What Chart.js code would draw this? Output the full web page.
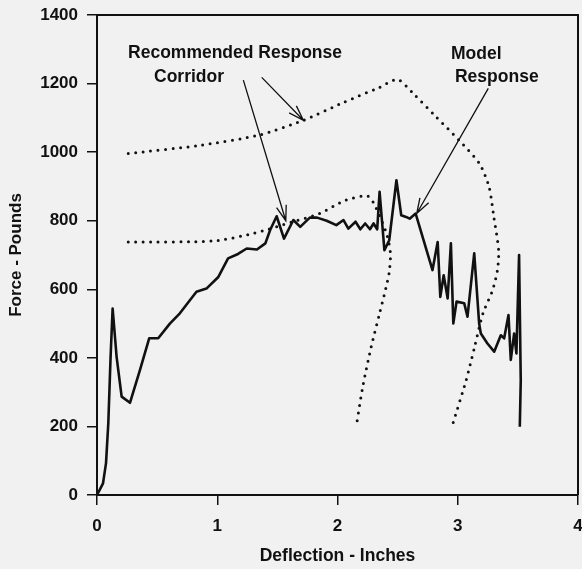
<!DOCTYPE html>
<html lang="en">
<head>
    <meta charset="utf-8" />
    <title>Force vs Deflection</title>
    <script src="https://cdn.jsdelivr.net/npm/chart.js"></script>
    <style>
        html, body { margin: 0; padding: 0; background: #f1f1f1; }
        #wrap { width: 582px; height: 569px; }
    </style>
</head>
<body>
<div id="wrap"><canvas id="forceChart" width="582" height="569"></canvas></div>

<script>
    // Model response - deflection (inches) and force (pounds)
    var modelX = [0, 0.05, 0.075, 0.094, 0.113, 0.13, 0.163, 0.205, 0.274, 0.357, 0.434, 0.509, 0.606, 0.689, 0.827, 0.91,
        1.007, 1.09, 1.173, 1.245, 1.33, 1.40, 1.44, 1.494, 1.555, 1.633, 1.69, 1.77, 1.83, 1.91, 1.99, 2.05, 2.09, 2.15,
        2.19, 2.23, 2.27, 2.30, 2.33, 2.35, 2.39, 2.43, 2.49, 2.53, 2.57, 2.60, 2.65, 2.79, 2.833, 2.855, 2.883, 2.916,
        2.943, 2.963, 2.99, 3.054, 3.081, 3.137, 3.178, 3.192, 3.247, 3.303, 3.358, 3.386, 3.422, 3.441, 3.469, 3.488,
        3.51, 3.524, 3.516];
    var modelY = [0, 34, 93, 209, 403, 544, 403, 287, 269, 364, 457, 457, 500, 530, 593, 602,
        635, 690, 703, 719, 716, 734, 773, 813, 748, 802, 782, 809, 809, 800, 787, 802, 777, 797,
        775, 792, 775, 792, 775, 884, 714, 743, 918, 816, 811, 806, 821, 656, 738, 578, 641, 573,
        734, 500, 564, 559, 520, 705, 500, 471, 442, 418, 466, 457, 525, 394, 471, 413,
        700, 335, 199];

    // Recommended response corridor - upper bound
    var upperX = [0.26, 0.86, 1.35, 1.71, 2.05, 2.35, 2.50, 2.63, 2.82, 3.01, 3.18, 3.26, 3.30, 3.34, 3.33, 3.29,
        3.21, 3.14, 3.07, 2.96];
    var upperY = [996, 1020, 1050, 1092, 1145, 1189, 1212, 1171, 1103, 1035, 967, 899, 811, 714, 656, 598,
        530, 432, 335, 209];

    // Recommended response corridor - lower bound
    var lowerX = [0.26, 0.97, 1.30, 1.63, 1.85, 2.07, 2.25, 2.31, 2.41, 2.44, 2.43, 2.40, 2.35, 2.28, 2.21, 2.16];
    var lowerY = [738, 741, 763, 797, 821, 860, 872, 845, 760, 705, 650, 600, 530, 432, 316, 209];

    var xTicks = [0, 1, 2, 3, 4];
    var yTicks = [0, 200, 400, 600, 800, 1000, 1200, 1400];

    // Callout text and arrows, in data units
    var callouts = [
        { text: 'Recommended Response', x: 0.258, y: 1289 },
        { text: 'Corridor', x: 0.474, y: 1219 },
        { text: 'Model', x: 2.944, y: 1286 },
        { text: 'Response', x: 2.977, y: 1219 }
    ];
    var arrows = [
        { from: [1.217, 1210], to: [1.57, 800] },
        { from: [1.37, 1218], to: [1.716, 1093] },
        { from: [3.254, 1186], to: [2.659, 821] }
    ];

    function toPoints(xs, ys) {
        return xs.map(function (x, i) { return { x: x, y: ys[i] }; });
    }

    var ink = '#111111';
    var boldFont = { family: '"Liberation Sans", Arial, sans-serif', size: 17, weight: 'bold' };

    var paperPlugin = {
        id: 'paper',
        beforeDraw: function (chart) {
            var ctx = chart.ctx;
            ctx.save();
            ctx.fillStyle = '#f1f1f1';
            ctx.fillRect(0, 0, chart.width, chart.height);
            ctx.restore();
        },
        afterDraw: function (chart) {
            var ctx = chart.ctx, a = chart.chartArea;
            var xs = chart.scales.x, ys = chart.scales.y;
            ctx.save();
            // top and right edges of the box
            ctx.strokeStyle = ink;
            ctx.lineWidth = 2;
            ctx.beginPath();
            ctx.moveTo(a.left, a.top);
            ctx.lineTo(a.right, a.top);
            ctx.lineTo(a.right, a.bottom);
            ctx.stroke();

            // arrows
            ctx.lineWidth = 1.3;
            arrows.forEach(function (ar) {
                var x1 = xs.getPixelForValue(ar.from[0]), y1 = ys.getPixelForValue(ar.from[1]);
                var x2 = xs.getPixelForValue(ar.to[0]), y2 = ys.getPixelForValue(ar.to[1]);
                var ang = Math.atan2(y2 - y1, x2 - x1);
                var len = 16, spread = 0.32;
                ctx.beginPath();
                ctx.moveTo(x1, y1);
                ctx.lineTo(x2, y2);
                ctx.moveTo(x2 - len * Math.cos(ang - spread), y2 - len * Math.sin(ang - spread));
                ctx.lineTo(x2, y2);
                ctx.lineTo(x2 - len * Math.cos(ang + spread), y2 - len * Math.sin(ang + spread));
                ctx.stroke();
            });

            // callout labels
            ctx.fillStyle = ink;
            ctx.font = 'bold 17.5px "Liberation Sans", Arial, sans-serif';
            ctx.textAlign = 'left';
            ctx.textBaseline = 'middle';
            callouts.forEach(function (c) {
                ctx.fillText(c.text, xs.getPixelForValue(c.x), ys.getPixelForValue(c.y));
            });
            ctx.restore();
        }
    };

    var ctx = document.getElementById('forceChart').getContext('2d');
    var forceChart = new Chart(ctx, {
        type: 'scatter',
        data: {
            datasets: [
                {
                    label: 'Model Response',
                    data: toPoints(modelX, modelY),
                    showLine: true,
                    borderColor: ink,
                    borderWidth: 2.6,
                    borderJoinStyle: 'round',
                    pointRadius: 0,
                    tension: 0
                },
                {
                    label: 'Corridor Upper',
                    data: toPoints(upperX, upperY),
                    showLine: true,
                    borderColor: ink,
                    borderWidth: 3,
                    borderDash: [0, 7.5],
                    borderCapStyle: 'round',
                    pointRadius: 0,
                    tension: 0.25
                },
                {
                    label: 'Corridor Lower',
                    data: toPoints(lowerX, lowerY),
                    showLine: true,
                    borderColor: ink,
                    borderWidth: 3,
                    borderDash: [0, 7.5],
                    borderCapStyle: 'round',
                    pointRadius: 0,
                    tension: 0.25
                }
            ]
        },
        options: {
            responsive: false,
            animation: false,
            layout: { padding: { top: 15, right: 4, left: 0, bottom: 0 } },
            plugins: {
                legend: { display: false },
                tooltip: { enabled: false }
            },
            scales: {
                x: {
                    type: 'linear',
                    min: 0,
                    max: 4,
                    afterBuildTicks: function (scale) {
                        scale.ticks = xTicks.map(function (v) { return { value: v }; });
                    },
                    afterFit: function (scale) {
                        scale.height = 74;
                        scale.paddingLeft = 0;
                        scale.paddingRight = 0;
                    },
                    ticks: {
                        color: ink, font: boldFont, padding: 11, maxRotation: 0,
                        callback: function (v) { return String(v); }
                    },
                    grid: { drawOnChartArea: false, drawTicks: true, tickLength: 10, color: ink, lineWidth: 1.5 },
                    border: { display: true, color: ink, width: 2 },
                    title: {
                        display: true,
                        text: 'Deflection - Inches',
                        color: ink,
                        font: { family: boldFont.family, size: 17.5, weight: 'bold' },
                        padding: { top: 0, bottom: 2 }
                    }
                },
                y: {
                    type: 'linear',
                    min: 0,
                    max: 1400,
                    afterBuildTicks: function (scale) {
                        scale.ticks = yTicks.map(function (v) { return { value: v }; });
                    },
                    afterFit: function (scale) {
                        scale.width = 97;
                        scale.paddingTop = 0;
                        scale.paddingBottom = 0;
                    },
                    ticks: {
                        color: ink, font: boldFont, padding: 9,
                        callback: function (v) { return String(v); }
                    },
                    grid: { drawOnChartArea: false, drawTicks: true, tickLength: 10, color: ink, lineWidth: 1.5 },
                    border: { display: true, color: ink, width: 2 },
                    title: {
                        display: true,
                        text: 'Force - Pounds',
                        color: ink,
                        font: boldFont,
                        padding: { top: 6, bottom: 0 }
                    }
                }
            }
        },
        plugins: [paperPlugin]
    });
</script>
</body>
</html>
